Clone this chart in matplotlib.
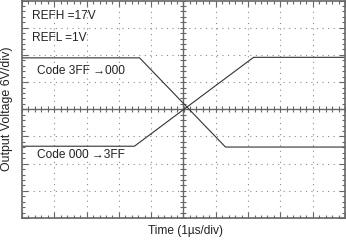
import numpy as np
import matplotlib
matplotlib.use('Agg')
import matplotlib.pyplot as plt

plt.rcParams['font.family'] = ['Liberation Sans', 'DejaVu Sans']

# screen divisions: 10 horizontal (1 us/div), 8 vertical
t_3ff_000 = [-5.0, -1.36, 1.30, 5.0]
v_3ff_000 = [1.89, 1.89, -1.39, -1.39]
t_000_3ff = [-5.0, -1.52, 2.17, 5.0]
v_000_3ff = [-1.36, -1.36, 1.91, 1.91]

xdivs = np.arange(-5, 6, 1)
ydivs = np.arange(-4, 5, 1)
xminor = np.arange(-5, 5.01, 0.2)
yminor = np.arange(-4, 4.01, 0.2)

fig = plt.figure(figsize=(3.46, 2.41), dpi=100)
ax = fig.add_axes([22/346, 23/241, 323/346, 217.5/241])
ax.set_xlim(-5, 5)
ax.set_ylim(-4, 4)

gcol = '#8a8a8a'
for x in xdivs[1:-1]:
    if x != 0:
        ax.axvline(x, color=gcol, lw=0.8, ls=(0, (1, 4)))
for y in ydivs[1:-1]:
    if y != 0:
        ax.axhline(y, color=gcol, lw=0.8, ls=(0, (1, 4)))
ax.axhline(0, color='#666666', lw=1.0)
ax.axvline(0, color='#666666', lw=1.0)
# ticks on the centre axes
ax.plot(xminor, np.zeros_like(xminor), ls='none', marker='|', ms=4, mew=0.8, color='#666666')
ax.plot(np.zeros_like(yminor), yminor, ls='none', marker='_', ms=4, mew=0.8, color='#666666')

ax.plot(t_3ff_000, v_3ff_000, color='#333333', lw=0.8)
ax.plot(t_000_3ff, v_000_3ff, color='#333333', lw=0.8)

ax.set_xticks(xdivs)
ax.set_yticks(ydivs)
ax.set_xticks(xminor, minor=True)
ax.set_yticks(yminor, minor=True)
ax.tick_params(which='both', direction='in', top=True, right=True,
               labelbottom=False, labelleft=False, color='#666666', width=0.8)
ax.tick_params(which='major', length=4)
ax.tick_params(which='minor', length=2.5)
for s in ax.spines.values():
    s.set_color('#666666')
    s.set_linewidth(1.2)

fs = 8.6
ax.text(-4.7, 3.42, 'REFH =17V', fontsize=fs, va='center', color='#222222')
ax.text(-4.7, 2.62, 'REFL =1V', fontsize=fs, va='center', color='#222222')
ax.text(-4.55, 1.39, 'Code 3FF \u2192000', fontsize=fs, va='center', color='#222222')
ax.text(-4.55, -1.69, 'Code 000 \u21923FF', fontsize=fs, va='center', color='#222222')

fig.text(185/346, 1 - 231/241, 'Time (1\u00b5s/div)', fontsize=fs, ha='center', va='center', color='#222222')
fig.text(7/346, 1 - 109/241, 'Output Voltage 6V/div)', fontsize=8.9, ha='center', va='center',
         rotation=90, color='#222222')

fig.savefig('out.png', dpi=100)
